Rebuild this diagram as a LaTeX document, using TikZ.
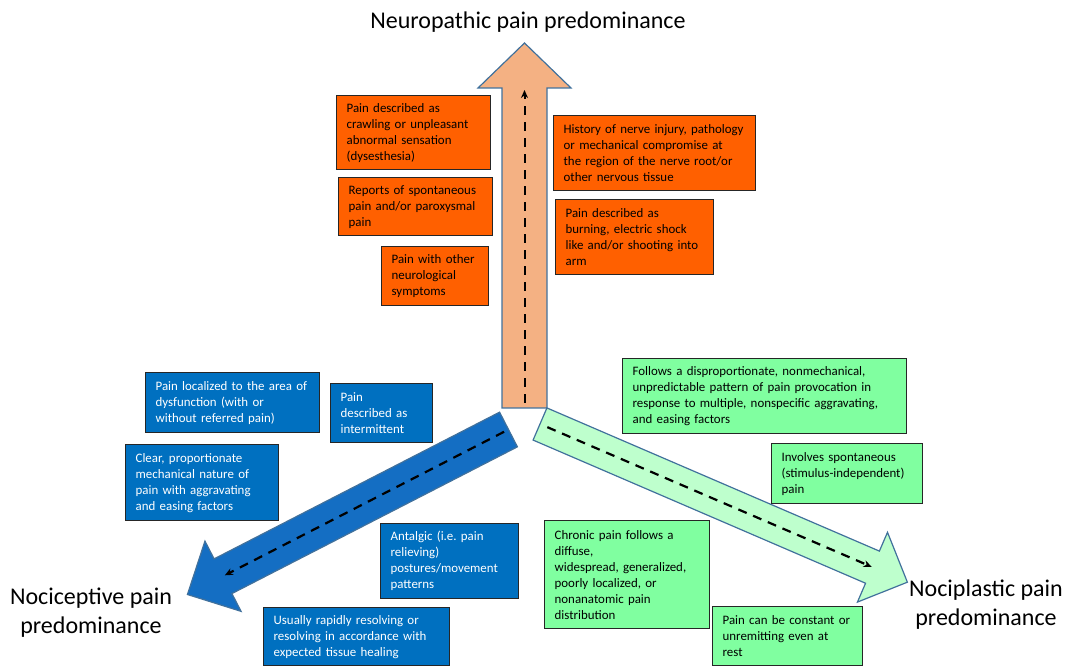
\documentclass[tikz,border=0pt]{standalone}
\usepackage{fontspec}
\setmainfont{Carlito}
\usepackage{tikz}
\usetikzlibrary{arrows.meta}

\definecolor{orangebox}{RGB}{255,96,0}
\definecolor{bluebox}{RGB}{0,112,192}
\definecolor{greenbox}{RGB}{128,255,160}
\definecolor{orangearrow}{RGB}{244,177,131}
\definecolor{bluearrow}{RGB}{20,110,195}
\definecolor{greenarrow}{RGB}{190,255,205}
\definecolor{arrowedge}{RGB}{65,113,156}

% fat arrow along x: length, shaft half width, head half width, head length
\newcommand{\fatarrow}[4]{(0,-#2) -- ({#1-#4},-#2) -- ({#1-#4},-#3) -- (#1,0) -- ({#1-#4},#3) -- ({#1-#4},#2) -- (0,#2) -- cycle}

\tikzset{
	box/.style={draw=black!85, line width=1.3pt, anchor=north west, inner xsep=10pt, inner ysep=3pt, align=left, font=\fontsize{12.9}{16}\selectfont},
	nbox/.style={box, fill=orangebox},
	cbox/.style={box, fill=bluebox, text=white},
	pbox/.style={box, fill=greenbox},
	fat/.style={draw=arrowedge, line width=1.2pt, line join=miter},
	dashline/.style={line width=2.2pt, dash pattern=on 9pt off 7pt, -{Stealth[length=8pt,width=7pt]}},
	heading/.style={align=center, font=\fontsize{24}{29}\selectfont}
}

\begin{document}
\begin{tikzpicture}[x=1pt, y=1pt]
	\useasboundingbox (0,0) rectangle (1070,667);
	% the three arrows
	\begin{scope}[shift={(524.5,259)}, rotate=90]
		\draw[fat, fill=orangearrow] \fatarrow{365}{22.5}{46.5}{45};
		\draw[dashline, line width=2pt] (5,0) -- (318,0);
	\end{scope}
	\begin{scope}[shift={(508.5,237.5)}, rotate=207.2]
		\draw[fat, fill=bluearrow] \fatarrow{361}{19.5}{39.5}{40};
		\draw[dashline] (5,0) -- (319,0);
	\end{scope}
	\begin{scope}[shift={(540,243)}, rotate=-23.3]
		\draw[fat, fill=greenarrow] \fatarrow{400}{17.5}{38}{38};
		\draw[dashline] (8,0) -- (361,0);
	\end{scope}
	% headings
	\node[heading] (neuro) at (528,645) {Neuropathic pain predominance};
	\node[heading] (noci) at (91,54) {Nociceptive pain\\predominance};
	\node[heading] (plast) at (986,62) {Nociplastic pain\\predominance};
	% neuropathic boxes
	\node[nbox, minimum width=154pt, minimum height=74pt, text width=134pt] (crawl) at (336,572) {Pain described as\\crawling or unpleasant\\abnormal sensation\\(dysesthesia)};
	\node[nbox, minimum width=154pt, minimum height=58pt, text width=134pt] (spont) at (338,490) {Reports of spontaneous\\pain and/or paroxysmal\\pain};
	\node[nbox, minimum width=107pt, minimum height=59pt, text width=87pt] (neurol) at (381,421) {Pain with other\\neurological\\symptoms};
	\node[nbox, minimum width=202pt, minimum height=75pt, text width=182pt] (history) at (553,552) {History of nerve injury, pathology\\or mechanical compromise at\\the region of the nerve root/or\\other nervous tissue};
	\node[nbox, minimum width=158pt, minimum height=75pt, text width=138pt] (burn) at (555,468) {Pain described as\\burning, electric shock\\like and/or shooting into\\arm};
	% nociceptive boxes
	\node[cbox, minimum width=174pt, minimum height=60pt, text width=154pt] (local) at (145,295) {Pain localized to the area of\\dysfunction (with or\\without referred pain)};
	\node[cbox, minimum width=102pt, minimum height=59pt, text width=82pt] (interm) at (330,284) {Pain\\described as\\intermittent};
	\node[cbox, minimum width=153pt, minimum height=76pt, text width=133pt] (mech) at (125,223) {Clear, proportionate\\mechanical nature of\\pain with aggravating\\and easing factors};
	\node[cbox, minimum width=138pt, minimum height=75pt, text width=118pt] (antalg) at (380,144) {Antalgic (i.e.\ pain\\relieving)\\postures/movement\\patterns};
	\node[cbox, minimum width=186pt, minimum height=58pt, text width=166pt] (resolve) at (263,60) {Usually rapidly resolving or\\resolving in accordance with\\expected tissue healing};
	% nociplastic boxes
	\node[pbox, minimum width=284pt, minimum height=75pt, text width=264pt] (dispro) at (622,309) {Follows a disproportionate, nonmechanical,\\unpredictable pattern of pain provocation in\\response to multiple, nonspecific aggravating,\\and easing factors};
	\node[pbox, minimum width=151pt, minimum height=60pt, text width=131pt] (involve) at (771,224) {Involves spontaneous\\(stimulus-independent)\\pain};
	\node[pbox, minimum width=165pt, minimum height=108pt, text width=145pt] (chronic) at (544,147) {Chronic pain follows a\\diffuse,\\widespread, generalized,\\poorly localized, or\\nonanatomic pain\\distribution};
	\node[pbox, minimum width=150pt, minimum height=59pt, text width=130pt] (constant) at (712,61) {Pain can be constant or\\unremitting even at\\rest};
\end{tikzpicture}
\end{document}
